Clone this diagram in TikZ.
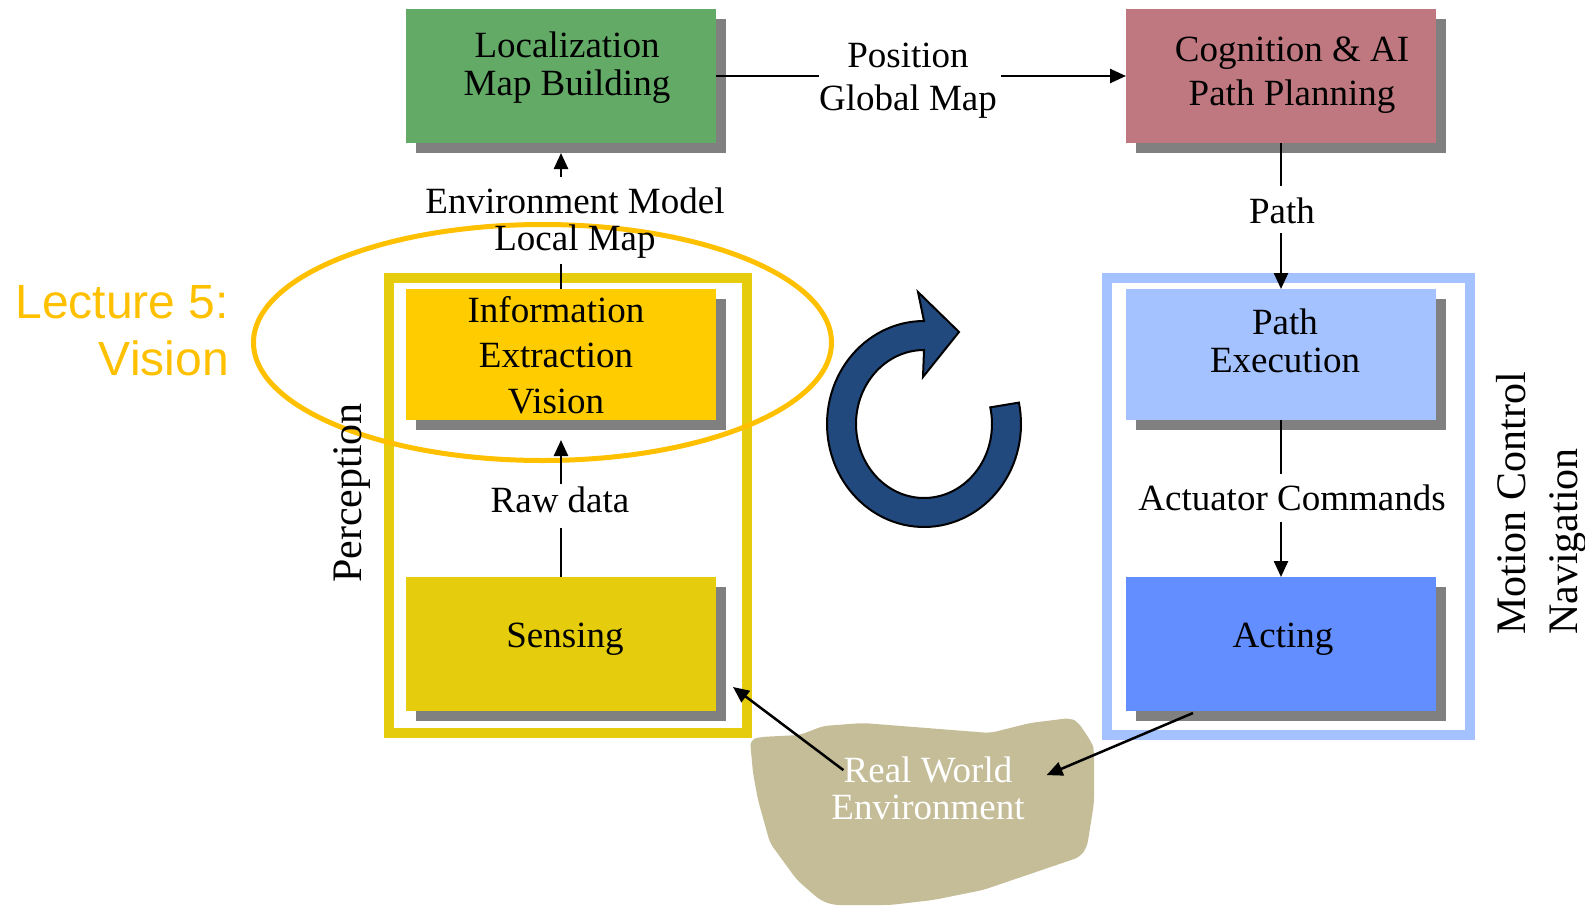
\documentclass[tikz,border=0pt]{standalone}
\usepackage{fontspec}
\setmainfont{Liberation Serif}
\newfontfamily\lecfont{Liberation Sans}
\usetikzlibrary{arrows.meta,calc,shadows}
\definecolor{cgreen}{RGB}{99,170,102}
\definecolor{crose}{RGB}{191,120,128}
\definecolor{cinfo}{RGB}{255,204,0}
\definecolor{csens}{RGB}{229,204,12}
\definecolor{cpexe}{RGB}{164,194,255}
\definecolor{cact}{RGB}{99,142,255}
\definecolor{cshadow}{RGB}{128,128,128}
\definecolor{cblob}{RGB}{196,189,151}
\definecolor{cgold}{RGB}{255,192,0}
\definecolor{cring}{RGB}{33,73,125}
\begin{document}
\begin{tikzpicture}[x=1pt,y=-1pt,
  box/.style={rectangle,inner sep=0pt,outer sep=0pt,minimum width=310pt,minimum height=134pt,
     drop shadow={shadow xshift=10pt,shadow yshift=-10pt,fill=cshadow,opacity=1}},
  tl/.style={inner sep=0pt,outer sep=0pt,align=center,font=\fontsize{37}{#1}\selectfont},
  tl/.default=44,
  conn/.style={line width=2.5pt,draw=black},
  arr/.style={conn,-{Triangle[length=16pt,width=14pt]}},
  frm/.style={rectangle,inner sep=0pt,outer sep=0pt,line width=10pt,fill=none}]
\useasboundingbox (0,0) rectangle (1585,905);

% real world blob
\fill[cblob, rounded corners=6pt] (750,740) -- (760,737) -- (800,735) -- (823,726) -- (863,723) -- (990,733) -- (1030,723) -- (1070,718) -- (1078,722) -- (1092,743) -- (1094,750) -- (1094,803) -- (1087,847) -- (1080,857) -- (1033,873) -- (983,890) -- (933,900) -- (890,905) -- (833,905) -- (820,900) -- (797,880) -- (770,843) -- (758,800) -- (753,773) -- cycle;

% frames
\node[frm, draw=csens, minimum width=358pt, minimum height=455pt] (perc) at (568,505.5) {};
\node[frm, draw=cpexe, minimum width=363pt, minimum height=457pt] (motion) at (1288.5,506.5) {};

% boxes
\node[box, fill=cgreen] (loc) at (561,76) {};
\node[box, fill=crose] (cog) at (1281,76) {};
\node[box, fill=cinfo, minimum height=131pt] (info) at (561,354.5) {};
\node[box, fill=csens] (sens) at (561,644) {};
\node[box, fill=cpexe, minimum height=131pt] (pexe) at (1281,354.5) {};
\node[box, fill=cact] (acting) at (1281,644) {};

% highlight ellipse
\draw[cgold, line width=5pt] (542.5,342.5) ellipse [x radius=289, y radius=118];

% texts
\node[tl=38] (loct) at (567,68.4) {\strut Localization\\\strut Map Building};
\node[tl=44] (cogt) at (1292,74.2) {\strut Cognition \& AI\\\strut Path Planning};
\node[tl=43] (post) at (908,79.9) {\strut Position\\\strut Global Map};
\node[tl=36] (envt) at (575,224.8) {\strut Environment Model\\\strut Local Map};
\node[tl=45.5] (infot) at (556,358.4) {\strut Information\\\strut Extraction\\\strut Vision};
\node[tl=38] (pexet) at (1285,345.4) {\strut Path\\\strut Execution};
\node[tl=37, text=white] (rwt) at (928,793.1) {\strut Real World\\\strut Environment};
\node[tl, anchor=base] (patht) at (1282,223) {Path};
\node[tl, anchor=base] (rawt) at (560,512) {Raw data};
\node[tl, anchor=base] (actt) at (1292,510) {Actuator Commands};
\node[tl, anchor=base] (senst) at (565,647) {Sensing};
\node[tl, anchor=base] (actingt) at (1283,647) {Acting};
\node[inner sep=0pt, align=right, text=cgold, font=\lecfont\fontsize{48}{57}\selectfont, anchor=east] (lect) at (229,335.1) {\strut Lecture 5:\\\strut Vision};
\node[inner sep=0pt, rotate=90, anchor=base, font=\fontsize{42}{50}\selectfont] (perct) at (361,493) {Perception};
\node[inner sep=0pt, rotate=90, anchor=west, align=left, font=\fontsize{42}{52}\selectfont] (motiont) at (1540.6,635) {\strut Motion Control\\\strut Navigation};

% connectors
\draw[arr] ($(envt.north -| loc.south)+(0,-11)$) -- ($(loc.south)+(0,10)$);
\draw[conn] ($(envt.south -| info.north)+(0,2)$) -- (info.north);
\draw[conn] (loc.east) -- (loc.east -| post.west);
\draw[arr] ($(post.east |- cog.west)+(4,0)$) -- (cog.west);
\draw[conn] (cog.south) -- ($(patht.north -| cog.south)+(0,-11)$);
\draw[arr] ($(patht.south -| cog.south)+(0,10)$) -- (pexe.north);
\draw[conn] (pexe.south) -- ($(actt.north -| pexe.south)+(0,-10)$);
\draw[arr] ($(actt.south -| pexe.south)+(0,12)$) -- (acting.north);
\draw[arr] ($(rawt.north -| info.south)+(0,-2)$) -- ($(info.south)+(0,20)$);
\draw[conn] (sens.north) -- ($(rawt.south -| sens.north)+(0,16)$);
\draw[arr] ($(rwt.north west)+(12,14)$) -- ($(sens.south east)+(17,-24)$);
\draw[arr] ($(acting.south)+(-88,2)$) -- ($(rwt.east)+(22,-18)$);

% circular arrow
\filldraw[fill=cring, draw=black, line width=2pt, line join=miter]
  plot[domain=0:282, samples=90, variable=\t] ({924+97*cos(12-\t)},{424-103*sin(12-\t)})
  -- (918,292) -- (959,332) -- (923,377)
  -- plot[domain=-270:13, samples=90, variable=\t] ({924+68*cos(\t)},{424-74*sin(\t)})
  -- cycle;
\end{tikzpicture}
\end{document}
